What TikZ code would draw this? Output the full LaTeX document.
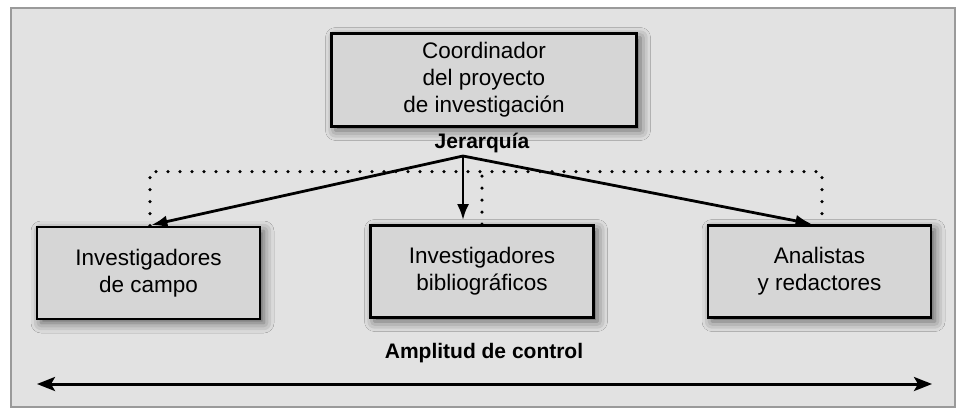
\documentclass[tikz,border=0pt]{standalone}
\usepackage{fontspec}
\setmainfont{Liberation Sans}
\usetikzlibrary{arrows.meta,positioning,shadows.blur}
\definecolor{panel}{HTML}{E2E2E2}
\definecolor{boxfill}{HTML}{D6D6D6}
\definecolor{frame}{HTML}{9A9A9A}
\tikzset{
  unit/.style = {draw, line width=2.8pt, fill=boxfill, align=center,
                 font=\fontsize{22.5}{27}\selectfont, inner sep=0pt,
                 blur shadow={shadow xshift=4pt, shadow yshift=-4pt,
                              shadow blur radius=10pt, shadow opacity=60}},
  head/.style = {unit, minimum width=305pt, minimum height=93pt},
  team/.style = {unit, minimum width=223pt, minimum height=92pt},
  tag/.style  = {font=\fontsize{21}{25}\selectfont\bfseries},
  ar/.style   = {-{Latex[length=16pt, width=12pt]}, line width=2.8pt},
  span/.style = {{Stealth[length=18pt, width=14pt, inset=4pt]}-{Stealth[length=18pt, width=14pt, inset=4pt]}, line width=3pt},
  dots/.style = {line width=3.6pt, line cap=round, dash pattern=on 0pt off 12pt}
}
\begin{document}
\begin{tikzpicture}[x=1pt, y=-1pt]
  \useasboundingbox (0,0) rectangle (958,408);
  \draw[frame, line width=2.6pt, fill=panel] (11,8) rectangle (955,407);

  \node[head] (coord) at (484,80) {Coordinador\\del proyecto\\de investigación};
  \node[tag] (jer) at (482,143) {Jerarquía};
  \coordinate (apex) at (463,156);

  \node[team] (campo)     at (148.5,273) {Investigadores\\de campo};
  \node[team] (biblio)    at (482,271.5) {Investigadores\\bibliográficos};
  \node[team] (analistas) at (819.5,271.5) {Analistas\\y redactores};

  \draw[dots] ([xshift=1.5pt]campo.north) -- ++(0,-54) -| ([xshift=2.5pt]analistas.north);
  \draw[dots] (biblio.north) -- ++(0,-52);

  \draw[ar, shorten >=3pt] (apex) -- (campo.north);
  \draw[ar, shorten >=4pt] (apex) -- (apex |- biblio.north);
  \draw[ar, shorten >=1pt] (apex) -- ([xshift=-7pt]analistas.north);

  \node[tag] (amp) at (484,353) {Amplitud de control};
  \coordinate (ampl) at (37,384);
  \coordinate (ampr) at (932,384);
  \draw[span] (ampl) -- (ampr);
\end{tikzpicture}
\end{document}
